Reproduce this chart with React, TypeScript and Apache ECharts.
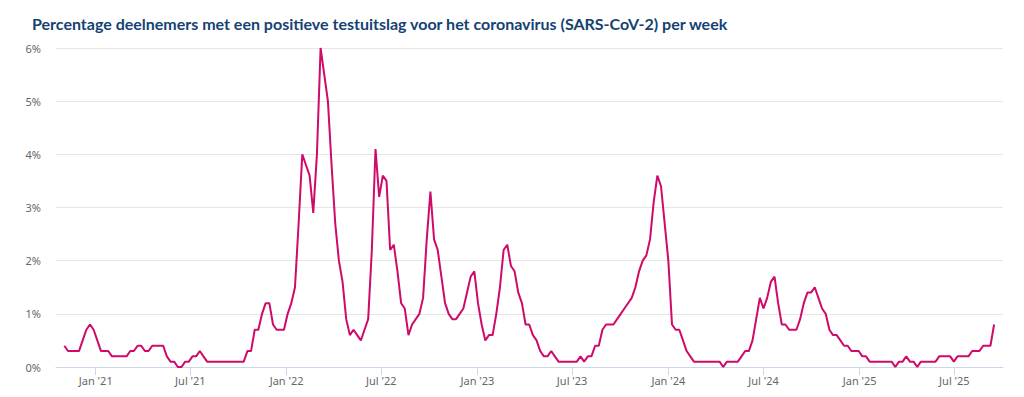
import React, { useEffect, useRef } from "react";
import * as echarts from "echarts";

const titleText =
  "Percentage deelnemers met een positieve testuitslag voor het coronavirus (SARS-CoV-2) per week";

// first weekly observation (Monday 2 Nov 2020), one value per week
const firstWeek = "2020-11-02";

// % of participants with a positive test, weekly
const positivity: number[] = [
  // Nov 2020 – Oct 2021
  0.4, 0.3, 0.3, 0.3, 0.3, 0.5, 0.7, 0.8, 0.7, 0.5,
  0.3, 0.3, 0.3, 0.2, 0.2, 0.2, 0.2, 0.2, 0.3, 0.3,
  0.4, 0.4, 0.3, 0.3, 0.4, 0.4, 0.4, 0.4, 0.2, 0.1,
  0.1, 0.0, 0.0, 0.1, 0.1, 0.2, 0.2, 0.3, 0.2, 0.1,
  0.1, 0.1, 0.1, 0.1, 0.1, 0.1, 0.1, 0.1, 0.1, 0.1,
  // Oct 2021 – 2022
  0.3, 0.3, 0.7, 0.7, 1.0, 1.2, 1.2, 0.8, 0.7, 0.7,
  0.7, 1.0, 1.2, 1.5, 2.7, 4.0, 3.8, 3.6, 2.9, 4.0,
  6.0, 5.5, 5.0, 3.8, 2.7, 2.0, 1.6, 0.9, 0.6, 0.7,
  0.6, 0.5, 0.7, 0.9, 2.2, 4.1, 3.2, 3.6, 3.5, 2.2,
  2.3, 1.8, 1.2, 1.1, 0.6, 0.8, 0.9, 1.0, 1.3, 2.4,
  // 2022 – 2023
  3.3, 2.4, 2.2, 1.7, 1.2, 1.0, 0.9, 0.9, 1.0, 1.1,
  1.4, 1.7, 1.8, 1.2, 0.8, 0.5, 0.6, 0.6, 1.0, 1.5,
  2.2, 2.3, 1.9, 1.8, 1.4, 1.2, 0.8, 0.8, 0.6, 0.5,
  0.3, 0.2, 0.2, 0.3, 0.2, 0.1, 0.1, 0.1, 0.1, 0.1,
  0.1, 0.2, 0.1, 0.2, 0.2, 0.4, 0.4, 0.7, 0.8, 0.8,
  // 2023 – 2024
  0.8, 0.9, 1.0, 1.1, 1.2, 1.3, 1.5, 1.8, 2.0, 2.1,
  2.4, 3.1, 3.6, 3.4, 2.7, 2.0, 0.8, 0.7, 0.7, 0.5,
  0.3, 0.2, 0.1, 0.1, 0.1, 0.1, 0.1, 0.1, 0.1, 0.1,
  0.0, 0.1, 0.1, 0.1, 0.1, 0.2, 0.3, 0.3, 0.5, 0.9,
  1.3, 1.1, 1.3, 1.6, 1.7, 1.2, 0.8, 0.8, 0.7, 0.7,
  // 2024 – 2025
  0.7, 0.9, 1.2, 1.4, 1.4, 1.5, 1.3, 1.1, 1.0, 0.7,
  0.6, 0.6, 0.5, 0.4, 0.4, 0.3, 0.3, 0.3, 0.2, 0.2,
  0.1, 0.1, 0.1, 0.1, 0.1, 0.1, 0.1, 0.0, 0.1, 0.1,
  0.2, 0.1, 0.1, 0.0, 0.1, 0.1, 0.1, 0.1, 0.1, 0.2,
  0.2, 0.2, 0.2, 0.1, 0.2, 0.2, 0.2, 0.2, 0.3, 0.3,
  0.3, 0.4, 0.4, 0.4, 0.8,
];

const tickDates = [
  "2021-01-01", "2021-07-01", "2022-01-01", "2022-07-01", "2023-01-01",
  "2023-07-01", "2024-01-01", "2024-07-01", "2025-01-01", "2025-07-01",
];
const tickLabels = [
  "Jan '21", "Jul '21", "Jan '22", "Jul '22", "Jan '23",
  "Jul '23", "Jan '24", "Jul '24", "Jan '25", "Jul '25",
];
const yTicks = [0, 1, 2, 3, 4, 5, 6];

const axisMin = "2020-10-17";
const axisMax = "2025-10-02";

const toTime = (s: string) => new Date(s + "T00:00:00Z").getTime();

export default function App() {
  const ref = useRef<HTMLDivElement>(null);

  useEffect(() => {
    if (!ref.current) return;
    const chart = echarts.init(ref.current, undefined, { renderer: "svg" });
    const start = toTime(firstWeek);
    const week = 7 * 24 * 3600 * 1000;
    const data = positivity.map((v, i) => [start + i * week, v]);
    const tickTimes = tickDates.map(toTime);
    const font = "'Noto Sans', 'Open Sans', sans-serif";

    chart.setOption({
      animation: false,
      backgroundColor: "#ffffff",
      title: {
        text: titleText,
        left: 27,
        top: 10,
        textStyle: {
          fontFamily: "Lato, 'Noto Sans', sans-serif",
          fontWeight: "bold",
          fontSize: 16,
          color: "#154273",
        },
      },
      grid: { left: 56, right: 21, top: 48, bottom: 30, containLabel: false },
      xAxis: {
        type: "value",
        min: toTime(axisMin),
        max: toTime(axisMax),
        axisLine: { show: true, lineStyle: { color: "#ccd6eb", width: 1 } },
        axisTick: {
          show: true,
          customValues: tickTimes,
          length: 8,
          lineStyle: { color: "#ccd6eb", width: 1 },
        },
        axisLabel: {
          customValues: tickTimes,
          showMinLabel: true,
          showMaxLabel: true,
          hideOverlap: false,
          color: "#666666",
          fontSize: 11,
          fontFamily: font,
          margin: 8,
          formatter: (v: number) => {
            let best = 0;
            for (let k = 1; k < tickTimes.length; k++) {
              if (Math.abs(tickTimes[k] - v) < Math.abs(tickTimes[best] - v)) best = k;
            }
            return tickLabels[best];
          },
        },
        splitLine: { show: false },
      },
      yAxis: {
        type: "value",
        min: yTicks[0],
        max: yTicks[yTicks.length - 1],
        interval: 1,
        axisLine: { show: false },
        axisTick: { show: false },
        axisLabel: {
          color: "#666666",
          fontSize: 11,
          fontFamily: font,
          margin: 15,
          formatter: "{value}%",
        },
        splitLine: { lineStyle: { color: "#e6e6e6", width: 1 } },
      },
      series: [
        {
          type: "line",
          data,
          showSymbol: false,
          symbol: "none",
          lineStyle: { color: "#cf0a68", width: 2 },
          itemStyle: { color: "#cf0a68" },
        },
      ],
    });
    return () => chart.dispose();
  }, []);

  return (
    <div
      ref={ref}
      style={{ position: "fixed", left: 0, top: 0, width: 1024, height: 397 }}
    />
  );
}
